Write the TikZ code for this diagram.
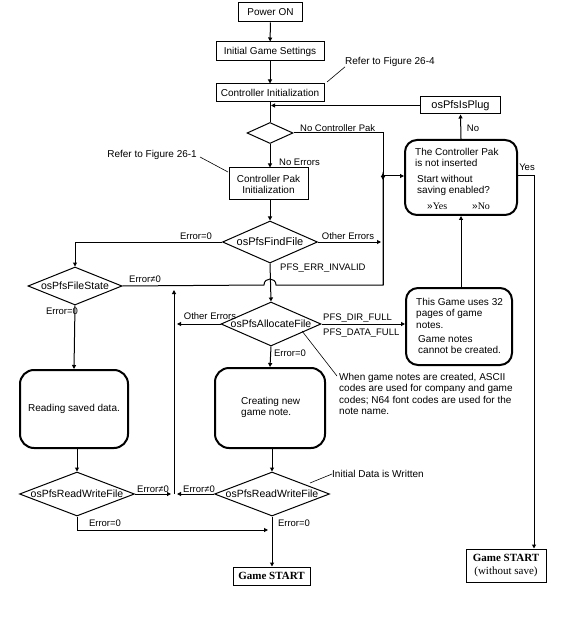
\documentclass[tikz,border=0pt]{standalone}
\usepackage{fontspec}
\setmainfont{Liberation Sans}
\newfontfamily\serifont{Liberation Serif}
\usetikzlibrary{shapes.geometric,arrows.meta}
\begin{document}
\begin{tikzpicture}[x=1pt,y=-1pt,
  every node/.style={font=\fontsize{10}{11}\selectfont, inner sep=0pt},
  box/.style={draw, line width=1pt, rectangle},
  rbox/.style={draw, line width=2pt, rounded corners=12pt, rectangle},
  dia/.style={draw, line width=1pt, diamond, font=\fontsize{10.5}{11}\selectfont},
  ln/.style={line width=1pt},
  arr/.style={line width=1pt, -{Triangle[length=4pt,width=4pt]}},
  lbl/.style={font=\fontsize{9.5}{11}\selectfont},
  lead/.style={line width=0.6pt},
  txt/.style={align=left, font=\fontsize{10}{11.3}\selectfont}
]
\useasboundingbox (0,0) rectangle (563,617);
\fill[white] (0,0) rectangle (563,617);

% ---- boxes
\node[box, minimum width=64pt, minimum height=19pt] (power) at (270.5,12.5) {Power ON};
\node[box, minimum width=108pt, minimum height=19pt] (init) at (270,51.5) {Initial Game Settings};
\node[box, minimum width=108pt, minimum height=18pt] (ctrl) at (270,93) {Controller Initialization};
\node[dia, minimum width=46pt, minimum height=21pt] (d0) at (270,133) {};
\node[box, minimum width=80pt, minimum height=17pt, font=\fontsize{11}{12}\selectfont] (isplug) at (460.5,105.5) {osPfsIsPlug};
\node[box, minimum width=79pt, minimum height=32pt, align=center] (cpi) at (268.5,184) {Controller Pak\\Initialization};
\node[dia, minimum width=95pt, minimum height=42pt, font=\fontsize{11}{12}\selectfont] (find) at (270,242) {\makebox[0pt]{osPfsFindFile}};
\node[dia, minimum width=94pt, minimum height=38pt] (fstate) at (75,286) {\makebox[0pt]{osPfsFileState}};
\node[dia, minimum width=100pt, minimum height=44pt] (alloc) at (271,324) {\makebox[0pt]{osPfsAllocateFile}};
\node[rbox, minimum width=112pt, minimum height=75pt] (notins) at (461,177.5) {};
\node[rbox, minimum width=106pt, minimum height=77pt] (full) at (459,326.5) {};
\node[rbox, minimum width=108pt, minimum height=78pt, rounded corners=14pt] (read) at (74,409) {Reading saved data.};
\node[rbox, minimum width=110pt, minimum height=80pt, rounded corners=14pt] (create) at (270,408) {};
\node[dia, minimum width=115pt, minimum height=44pt] (rw1) at (77,494) {\makebox[0pt]{osPfsReadWriteFile}};
\node[dia, minimum width=115pt, minimum height=44pt] (rw2) at (272,494) {\makebox[0pt]{osPfsReadWriteFile}};
\node[box, minimum width=77pt, minimum height=18pt, font=\serifont\bfseries\fontsize{11}{12}\selectfont] (start) at (271.5,576) {Game START};
\node[box, minimum width=80pt, minimum height=33pt, align=center, font=\serifont\fontsize{11}{13}\selectfont] (start2) at (506,565.5) {{\bfseries Game START}\\(without save)};

% ---- texts inside rounded boxes
\node[txt, anchor=north west] (nt1) at (415,148) {The Controller Pak\\is not inserted};
\node[txt, anchor=north west] (nt2) at (417,175) {Start without\\saving enabled?};
\node[anchor=west] (nyes) at (427,206) {»{\serifont Yes}};
\node[anchor=west] (nno) at (472,206) {»{\serifont No}};
\node[txt, anchor=north west] (ft1) at (416,298) {This Game uses 32\\pages of game\\notes.};
\node[txt, anchor=north west] (ft2) at (418,335) {Game notes\\cannot be created.};
\node[txt, anchor=north west] (ct) at (241,397) {Creating new\\game note.};

% ---- notes / leaders
\node[anchor=west] (ref4) at (345,62) {Refer to Figure 26-4};
\coordinate (l4) at (327,82);
\draw[lead] (l4) -- (ref4.south west);
\node[anchor=east] (ref1) at (197,155) {Refer to Figure 26-1};
\coordinate (l1a) at (200,157);
\coordinate (l1b) at (228,172);
\draw[lead] (l1a) -- (l1b);
\node[txt, anchor=north west] (note) at (339,373) {When game notes are created, ASCII\\codes are used for company and game\\codes; N64 font codes are used for the\\note name.};
\coordinate (ln1) at (302,331);
\coordinate (ln2) at (337,376);
\draw[lead] (ln1) -- (ln2);
\node[anchor=west] (idw) at (332,474) {Initial Data is Written};
\coordinate (li) at (310,483);
\draw[lead] (li) -- (idw.west);

% ---- main flow
\draw[arr] (power) -- (init);
\draw[arr] (init) -- (ctrl);
\draw[ln] (ctrl.south) -- (d0.north);
\draw[arr] (isplug.west) -- ([xshift=1pt]ctrl.south |- isplug.west);
\coordinate (jx) at (383,176);
\draw[arr] (d0.east) -- (d0.east -| jx) -- ([yshift=-4pt]jx);
\node[lbl, anchor=west] at (300,128.5) {No Controller Pak};
\draw[arr] (d0.south) -- (d0.south |- cpi.north);
\node[lbl, anchor=west] at (279,162) {No Errors};
\draw[arr] (jx) -- (jx -| notins.west);
\draw[arr] (cpi.south -| find.north) -- (find.north);
\draw[arr] (find.west) -- (find.west -| fstate.north) -- (fstate.north);
\node[lbl] at (196,236) {Error=0};
\coordinate (of) at (381,242);
\draw[arr] (find.east) -- (of);
\node[lbl] at (348,236) {Other Errors};
\draw[arr] (find.south) -- (alloc.north);
\node[lbl, anchor=west] at (280,268) {PFS\_ERR\_INVALID};
% Error != 0 from FileState with line hop
\coordinate (h1) at (264,285);
\coordinate (h2) at (276,285);
\draw[ln] (fstate.east) -- (h1) .. controls (264,277) and (276,277) .. (h2) -- (383,285) -- ([yshift=4pt]jx);
\draw[arr] (383,285) -- ([yshift=3pt]jx);
\node[lbl] at (145,279) {Error≠0};
\draw[arr] (fstate.south) -- (read.north);
\node[lbl] at (62,311) {Error=0};
\coordinate (oa) at (177,324);
\draw[arr] (alloc.west) -- (oa);
\node[lbl] at (210,316) {Other Errors};
\draw[arr] (alloc.east) -- (alloc.east -| full.west);
\node[lbl, anchor=west] at (323,318) {PFS\_DIR\_FULL};
\node[lbl, anchor=west] at (323,333) {PFS\_DATA\_FULL};
\draw[arr] (alloc.south) -- (create.north);
\node[lbl] at (290,353) {Error=0};
\draw[arr] (full.north -| 461,0) -- (notins.south -| 461,0);
\draw[arr] (notins.north) -- (isplug.south);
\node[lbl] at (473,128) {No};
\coordinate (ys) at (534,176);
\draw[arr] (notins.east |- ys) -- (ys) -- (ys |- start2.north);
\node[lbl] at (527,167) {Yes};
\draw[arr] (read.south -| rw1.north) -- (rw1.north);
\draw[arr] (create.south -| rw2.north) -- (rw2.north);
% Error != 0 loop
\coordinate (lp) at (174,494);
\draw[arr] (rw1.east) -- ([xshift=-3pt]lp);
\node[lbl] at (153,489) {Error≠0};
\draw[arr] (rw2.west) -- ([xshift=3pt]lp);
\node[lbl] at (199,489) {Error≠0};
\draw[arr] (lp) -- (174,290);
% Error = 0 to start
\coordinate (e0) at (270,530);
\draw[arr] (rw1.south) -- (rw1.south |- e0) -- ([xshift=-2pt]e0);
\node[lbl] at (105,523) {Error=0};
\draw[arr] (rw2.south) -- (rw2.south |- start.north);
\node[lbl] at (294,523) {Error=0};
\end{tikzpicture}
\end{document}
